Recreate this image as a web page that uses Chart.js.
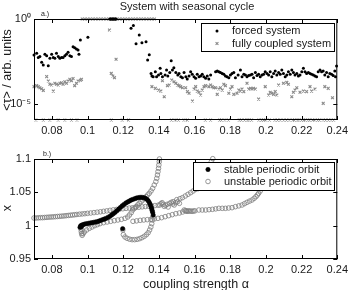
<!DOCTYPE html>
<html>
<head>
<meta charset="utf-8">
<script src="https://cdn.jsdelivr.net/npm/chart.js@4.4.1/dist/chart.umd.min.js"></script>
<style>
  html, body { margin: 0; padding: 0; background: #fff; }
  #wrap { position: relative; width: 352px; height: 290px; }
  canvas { position: absolute; left: 0; }
</style>
</head>
<body>
<div id="wrap">
  <canvas id="panelA" width="352" height="145" style="top:0"></canvas>
  <canvas id="panelB" width="352" height="145" style="top:145px"></canvas>
</div>
<script>
// ---- axis ticks ----
const xTickValues = [0.08, 0.1, 0.12, 0.14, 0.16, 0.18, 0.2, 0.22, 0.24];
const xTickLabels = ["0.08", "0.1", "0.12", "0.14", "0.16", "0.18", "0.2", "0.22", "0.24"];
const yTickValuesA = [1, 1e-5];
const yTickLabelsA = ["10\u2070", "10\u207b\u2075"];
const yTickValuesB = [0.95, 1, 1.05, 1.1];
const yTickLabelsB = ["0.95", "1", "1.05", "1.1"];

// ---- panel a: [alpha, log10 <tau>] ----
const forced = [
  [0.0700,-2.12],[0.0715,-2.02],[0.0724,-2.27],[0.0733,-2.21],[0.0743,-2.55],[0.0752,-2.70],
  [0.0761,-2.08],[0.0771,-2.16],[0.0780,-2.75],[0.0789,-2.31],[0.0799,-2.08],[0.0808,-2.27],
  [0.0817,-2.31],[0.0826,-2.02],[0.0836,-2.21],[0.0845,-2.31],[0.0854,-2.27],[0.0863,-2.27],
  [0.0873,-2.16],[0.0882,-2.08],[0.0891,-1.96],[0.0901,-2.16],[0.0910,-2.21],[0.0919,-1.63],
  [0.0928,-1.69],[0.0938,-1.76],[0.0947,-1.82],[0.0952,-2.08],[0.0960,-1.24],[0.1002,-1.08],
  [0.1125,0],[0.1130,0],[0.1135,0],[0.1140,0],[0.1145,0],[0.1150,0],[0.1155,0],[0.1160,0],
  [0.1244,-0.55],[0.1257,-0.38],[0.1272,-1.45],[0.1290,-0.94],[0.1305,-1.40],[0.1328,-1.34],
  [0.1337,-2.41],[0.1346,-2.10],
  [0.1356,-3.20],[0.1361,-3.35],[0.1368,-3.39],[0.1380,-3.10],[0.1387,-3.39],[0.1398,-3.29],
  [0.1407,-2.90],[0.1411,-3.20],[0.1420,-3.39],[0.1435,-3.29],[0.1443,-3.00],[0.1450,-3.35],
  [0.1461,-3.14],[0.1469,-2.45],[0.1476,-3.00],[0.1484,-2.86],[0.1495,-3.14],[0.1506,-3.29],
  [0.1513,-3.20],[0.1523,-3.39],[0.1532,-3.45],[0.1541,-3.14],[0.1551,-3.39],[0.1559,-3.53],
  [0.1569,-3.35],[0.1578,-3.10],[0.1587,-3.25],[0.1597,-3.39],[0.1606,-3.49],[0.1615,-3.25],
  [0.1625,-3.39],[0.1634,-3.35],[0.1643,-3.25],[0.1652,-3.39],[0.1662,-3.49],[0.1671,-3.35],
  [0.1680,-3.53],[0.1690,-3.29],[0.1718,-3.10],[0.1727,-3.06],[0.1736,-3.10],[0.1745,-3.14],
  [0.1755,-3.20],[0.1764,-3.25],[0.1773,-3.35],[0.1782,-3.39],[0.1792,-3.45],[0.1801,-3.29],
  [0.1810,-3.20],[0.1820,-3.14],[0.1829,-3.45],[0.1844,-3.29],[0.1857,-3.00],[0.1866,-3.39],
  [0.1876,-3.25],[0.1885,-3.29],[0.1894,-3.39],[0.1903,-3.33],[0.1913,-3.29],[0.1922,-3.25],
  [0.1931,-3.45],[0.1941,-3.14],[0.1950,-3.33],[0.1959,-3.25],[0.1968,-3.39],[0.1978,-3.29],
  [0.1987,-3.25],[0.1996,-3.10],[0.2006,-3.20],[0.2015,-3.29],[0.2024,-3.10],[0.2033,-3.39],
  [0.2043,-3.20],[0.2052,-3.06],[0.2061,-3.29],[0.2071,-3.14],[0.2080,-3.25],[0.2089,-3.00],
  [0.2098,-3.20],[0.2108,-3.39],[0.2117,-3.29],[0.2126,-3.10],[0.2136,-3.25],[0.2145,-3.00],
  [0.2154,-3.14],[0.2163,-3.29],[0.2173,-3.20],[0.2182,-3.35],[0.2191,-3.29],[0.2201,-3.10],
  [0.2210,-2.90],[0.2219,-3.10],[0.2228,-3.20],[0.2238,-3.14],[0.2247,-3.20],[0.2256,-3.25],
  [0.2266,-3.29],[0.2275,-3.35],[0.2284,-3.39],[0.2293,-3.10],[0.2303,-3.00],[0.2312,-3.10],
  [0.2321,-3.06],[0.2330,-3.29],[0.2340,-3.14],[0.2349,-3.39],[0.2358,-3.20],[0.2368,-3.25],
  [0.2377,-3.33],[0.2386,-3.06],[0.2390,-3.39],[0.2396,-2.76]
];

const coupled = [
  [0.0700,-3.98],[0.0715,-3.92],[0.0724,-3.98],[0.0733,-4.04],[0.0743,-4.10],[0.0752,-4.20],
  [0.0771,-3.39],[0.0780,-3.65],[0.0789,-3.84],[0.0799,-3.88],[0.0808,-4.24],[0.0817,-3.78],
  [0.0826,-3.84],[0.0836,-3.88],[0.0845,-3.78],[0.0854,-3.75],[0.0863,-3.84],[0.0873,-3.69],
  [0.0882,-3.78],[0.0891,-3.65],[0.0901,-3.55],[0.0910,-3.63],[0.0919,-3.50],[0.0928,-3.92],
  [0.0938,-3.78],[0.0947,-3.65],[0.0960,-3.60],[0.0966,-3.55],
  [0.0970,0],[0.0985,0],[0.1000,0],[0.1015,0],[0.1030,0],[0.1045,0],[0.1060,0],[0.1075,0],
  [0.1090,0],[0.1105,0],[0.1120,0],[0.1135,0],[0.1150,0],[0.1165,0],[0.1180,0],[0.1195,0],
  [0.1210,0],[0.1225,0],[0.1240,0],[0.1255,0],[0.1270,0],[0.1285,0],[0.1300,0],[0.1315,0],
  [0.1330,0],[0.1345,0],[0.1360,0],[0.1375,0],
  [0.1123,-0.65],[0.1160,-2.37],[0.1133,-3.20],[0.1142,-3.35],[0.1151,-3.45],
  [0.1361,-3.98],[0.1380,-4.08],[0.1398,-4.18],[0.1411,-4.24],[0.1420,-3.63],[0.1430,-4.57],
  [0.1448,-3.92],[0.1458,-3.88],[0.1472,-3.59],[0.1485,-3.69],[0.1495,-3.78],[0.1504,-3.88],
  [0.1513,-3.92],[0.1522,-3.98],[0.1532,-4.04],[0.1550,-4.04],[0.1560,-4.27],[0.1569,-4.37],
  [0.1588,-4.82],[0.1597,-4.12],[0.1606,-3.98],[0.1615,-4.24],[0.1625,-4.31],[0.1634,-4.47],
  [0.1643,-4.18],[0.1653,-3.98],[0.1662,-3.92],[0.1680,-3.98],[0.1690,-3.88],[0.1699,-3.98],
  [0.1708,-4.04],[0.1718,-4.04],[0.1727,-4.43],[0.1736,-4.12],[0.1745,-4.04],[0.1755,-4.18],
  [0.1764,-3.84],[0.1773,-3.92],[0.1792,-4.37],[0.1801,-4.12],[0.1810,-3.98],
  [0.1820,-4.43],[0.1838,-4.37],[0.1848,-4.18],[0.1857,-4.24],[0.1866,-4.12],[0.1876,-4.27],
  [0.1894,-3.78],[0.1903,-4.12],[0.1913,-4.08],[0.1922,-4.12],[0.1931,-4.08],[0.1941,-4.12],
  [0.1959,-4.71],[0.1996,-3.98],[0.2015,-4.47],[0.2024,-4.31],[0.2033,-4.37],[0.2043,-4.43],
  [0.2052,-4.27],[0.2061,-4.47],[0.2071,-3.88],[0.2098,-3.78],[0.2117,-3.73],[0.2126,-3.84],
  [0.2145,-4.57],[0.2154,-4.31],[0.2163,-4.18],[0.2173,-4.04],[0.2191,-4.31],[0.2210,-4.24],
  [0.2228,-4.27],[0.2247,-3.98],[0.2256,-4.24],[0.2275,-4.12],[0.2321,-4.96],[0.2330,-3.98],
  [0.2349,-4.08],[0.2373,-4.63],
  [0.0711,-5.94],[0.0752,-5.94],[0.0789,-5.94],[0.0835,-5.94],[0.0873,-5.94],[0.0910,-5.94],
  [0.0941,-5.94],[0.1133,-5.94],[0.1194,-5.94],[0.1230,-5.94],[0.1470,-5.94],[0.1490,-5.94],
  [0.1510,-5.94],[0.1540,-5.94],[0.1560,-5.94],[0.1660,-5.94],[0.1690,-5.94],[0.1740,-5.94],
  [0.1750,-5.94],[0.1770,-5.94],[0.1790,-5.94],[0.1850,-5.94],[0.1862,-5.94],[0.1880,-5.94],
  [0.1895,-5.94],[0.1905,-5.94],[0.1920,-5.94],[0.1960,-5.94],[0.1975,-5.94],[0.1985,-5.94],
  [0.2000,-5.94],[0.2020,-5.94],[0.2050,-5.94],[0.2065,-5.94],[0.2080,-5.94],[0.2100,-5.94],
  [0.2115,-5.94],[0.2130,-5.94],[0.2150,-5.94],[0.2160,-5.94],[0.2175,-5.94],[0.2185,-5.94],
  [0.2200,-5.94],[0.2210,-5.94],[0.2220,-5.94],[0.2235,-5.94],[0.2245,-5.94],[0.2260,-5.94],
  [0.2275,-5.94],[0.2290,-5.94],[0.2300,-5.94],[0.2320,-5.94],[0.2335,-5.94],[0.2350,-5.94],
  [0.2365,-5.94],[0.2380,-5.94]
];

// ---- panel b: [alpha, x] ----
const stable = [
  [0.0958,0.9975],[0.0962,1.0000],[0.0966,0.9985],[0.0970,1.0010],[0.0975,1.0015],[0.0985,1.0025],
  [0.0995,1.0030],[0.1005,1.0035],[0.1015,1.0040],[0.1025,1.0045],[0.1035,1.0050],[0.1045,1.0055],
  [0.1055,1.0060],[0.1065,1.0070],[0.1075,1.0080],[0.1085,1.0090],[0.1095,1.0100],[0.1105,1.0110],
  [0.1115,1.0125],[0.1125,1.0140],[0.1135,1.0160],[0.1145,1.0180],[0.1155,1.0200],[0.1165,1.0225],
  [0.1175,1.0250],[0.1185,1.0275],[0.1195,1.0300],[0.1205,1.0320],[0.1215,1.0340],[0.1225,1.0355],
  [0.1235,1.0370],[0.1245,1.0385],[0.1255,1.0395],[0.1265,1.0405],[0.1275,1.0415],[0.1285,1.0420],
  [0.1295,1.0425],[0.1305,1.0425],[0.1315,1.0420],[0.1325,1.0410],[0.1333,1.0395],[0.1340,1.0375],
  [0.1346,1.0350],[0.1351,1.0320],[0.1355,1.0290],[0.1359,1.0260],[0.1362,1.0230],[0.1365,1.0200],
  [0.1368,1.0160],[0.1197,0.9955]
];

const unstable = [
  [0.0700,1.0115],[0.0712,1.0115],[0.0724,1.0118],[0.0736,1.0120],[0.0748,1.0120],[0.0760,1.0123],
  [0.0772,1.0125],[0.0784,1.0128],[0.0796,1.0130],[0.0808,1.0132],[0.0820,1.0135],[0.0832,1.0138],
  [0.0844,1.0140],[0.0856,1.0143],[0.0868,1.0146],[0.0880,1.0150],[0.0892,1.0153],[0.0904,1.0157],
  [0.0916,1.0160],[0.0928,1.0164],[0.0940,1.0168],[0.0955,1.0172],[0.0970,1.0176],[0.0985,1.0180],
  [0.1000,1.0185],[0.1018,1.0190],[0.1036,1.0196],[0.1054,1.0202],[0.1072,1.0208],[0.1090,1.0215],
  [0.1108,1.0222],[0.1126,1.0230],[0.1144,1.0237],[0.1162,1.0243],[0.1180,1.0249],[0.1198,1.0254],
  [0.1216,1.0259],[0.1234,1.0264],[0.1252,1.0268],[0.1270,1.0272],[0.1288,1.0277],[0.1306,1.0282],
  [0.1324,1.0287],[0.1342,1.0292],[0.1360,1.0297],[0.1378,1.0302],[0.1396,1.0307],
  [0.1405,1.0310],[0.1412,1.0330],[0.1418,1.0345],[0.1424,1.0320],[0.1430,1.0290],[0.1438,1.0305],
  [0.1446,1.0320],[0.1452,1.0280],[0.1460,1.0335],[0.1470,1.0350],[0.1478,1.0325],[0.1486,1.0310],
  [0.1495,1.0345],[0.1505,1.0360],[0.1515,1.0335],
  [0.1480,1.0360],[0.1500,1.0390],[0.1518,1.0405],[0.1532,1.0420],[0.1548,1.0445],[0.1563,1.0470],
  [0.1578,1.0495],[0.1592,1.0520],[0.1606,1.0545],[0.1620,1.0555],[0.1624,1.0585],[0.1643,1.0660],
  [0.1658,1.0730],[0.1672,1.0810],[0.1684,1.0890],[0.1694,1.0960],[0.1702,1.1005],
  [0.0962,0.9985],[0.0963,0.9950],[0.0965,0.9910],[0.0967,0.9880],[0.0970,0.9855],[0.0975,0.9880],
  [0.0982,0.9905],[0.0995,0.9935],[0.1010,0.9960],[0.1025,0.9980],[0.1040,1.0000],[0.1055,1.0015],
  [0.1070,1.0030],[0.1090,1.0045],[0.1110,1.0055],[0.1130,1.0065],[0.1150,1.0075],[0.1170,1.0085],
  [0.1190,1.0095],[0.1210,1.0110],[0.1225,1.0130],[0.1235,1.0160],[0.1245,1.0195],[0.1253,1.0235],
  [0.1262,1.0260],[0.1272,1.0285],[0.1281,1.0310],[0.1290,1.0335],[0.1300,1.0360],[0.1310,1.0385],
  [0.1320,1.0410],[0.1328,1.0435],[0.1337,1.0460],[0.1346,1.0485],[0.1356,1.0520],[0.1365,1.0560],
  [0.1374,1.0610],[0.1383,1.0660],[0.1388,1.0710],[0.1392,1.0760],[0.1395,1.0810],[0.1398,1.0860],
  [0.1400,1.0910],[0.1402,1.0960],[0.1403,1.1000],
  [0.1198,0.9935],[0.1201,0.9865],[0.1210,0.9830],[0.1222,0.9810],[0.1236,0.9797],[0.1250,0.9790],
  [0.1264,0.9790],[0.1278,0.9795],[0.1292,0.9805],[0.1305,0.9820],[0.1318,0.9840],[0.1330,0.9865],
  [0.1340,0.9895],[0.1348,0.9935],[0.1355,0.9980],[0.1360,1.0030],[0.1363,1.0085],[0.1366,1.0130],
  [0.1255,1.0065],[0.1275,1.0072],[0.1295,1.0080],[0.1315,1.0085],[0.1335,1.0090],[0.1355,1.0095],
  [0.1375,1.0102],[0.1395,1.0110],[0.1415,1.0120],[0.1435,1.0135],[0.1455,1.0150],[0.1475,1.0165],
  [0.1495,1.0180],[0.1515,1.0190],[0.1533,1.0205],
  [0.1542,1.0235],[0.1548,1.0225],[0.1553,1.0220],[0.1558,1.0215],[0.1564,1.0222],[0.1570,1.0218],
  [0.1578,1.0220],[0.1586,1.0215],[0.1594,1.0220],[0.1602,1.0222],
  [0.1624,1.0235],[0.1643,1.0235],[0.1662,1.0235],[0.1681,1.0240],[0.1700,1.0245],[0.1718,1.0252],
  [0.1736,1.0260],[0.1755,1.0260],[0.1773,1.0260],[0.1791,1.0265],[0.1810,1.0270],[0.1829,1.0285],
  [0.1848,1.0297],[0.1866,1.0310],[0.1880,1.0330],[0.1894,1.0350],[0.1908,1.0368],[0.1922,1.0385],
  [0.1934,1.0410],[0.1944,1.0435],[0.1952,1.0460],[0.1959,1.0485],[0.1968,1.0520],[0.1977,1.0560],
  [0.1985,1.0620]
];

const FONT = '"Liberation Sans", Arial, Helvetica, sans-serif';
const INK = "#1a1a1a";
const GREY_X = "#8a8a8a";
const GREY_O = "#7d7d7d";

function toLogPoints(rows) {
  return rows.map(([a, e]) => ({ x: a, y: Math.pow(10, e) }));
}
function toPoints(rows) {
  return rows.map(([a, v]) => ({ x: a, y: v }));
}

function xScale(height) {
  return {
    type: "linear",
    min: 0.07,
    max: 0.24,
    afterBuildTicks: (s) => { s.ticks = xTickValues.map((v) => ({ value: v })); },
    afterFit: (s) => { s.height = height; },
    grid: { display: false, drawTicks: false },
    border: { display: false },
    ticks: {
      padding: 4,
      color: INK,
      font: { family: FONT, size: 11 },
      maxRotation: 0,
      autoSkip: false,
      callback: (v, i) => xTickLabels[i],
    },
  };
}

function yScale(extra, values, labels) {
  return Object.assign({
    afterBuildTicks: (s) => { s.ticks = values.map((v) => ({ value: v })); },
    afterFit: (s) => { s.width = 34; },
    grid: { display: false, drawTicks: false },
    border: { display: false },
    ticks: {
      padding: 3,
      color: INK,
      font: { family: FONT, size: 11 },
      callback: (v, i) => labels[i],
    },
  }, extra);
}

// frame with inward ticks, hand-placed texts and a boxed legend
function decorations(cfg) {
  return {
    id: "decorations",
    afterDraw(chart) {
      const ctx = chart.ctx;
      const a = chart.chartArea;
      const xs = chart.scales.x;
      const ys = chart.scales.y;
      ctx.save();
      ctx.strokeStyle = "#000";
      ctx.lineWidth = 1;
      ctx.strokeRect(a.left + 0.5, a.top + 0.5, a.right - a.left - 1, a.bottom - a.top - 1);
      ctx.beginPath();
      xTickValues.forEach((v) => {
        const px = Math.round(xs.getPixelForValue(v)) + 0.5;
        ctx.moveTo(px, a.bottom); ctx.lineTo(px, a.bottom - 4);
        ctx.moveTo(px, a.top); ctx.lineTo(px, a.top + 4);
      });
      cfg.yTicks.forEach((v) => {
        const py = Math.round(ys.getPixelForValue(v)) + 0.5;
        ctx.moveTo(a.left, py); ctx.lineTo(a.left + 4, py);
        ctx.moveTo(a.right, py); ctx.lineTo(a.right - 4, py);
      });
      ctx.stroke();

      ctx.fillStyle = INK;
      cfg.texts.forEach((t) => {
        ctx.save();
        ctx.font = t.size + "px " + FONT;
        ctx.textAlign = t.align || "center";
        ctx.textBaseline = "middle";
        ctx.translate(t.x, t.y);
        if (t.rotate) ctx.rotate(-Math.PI / 2);
        ctx.fillText(t.text, 0, 0);
        ctx.restore();
      });

      const L = cfg.legend;
      ctx.fillStyle = "#fff";
      ctx.fillRect(L.x, L.y, L.w, L.h);
      ctx.strokeStyle = "#000";
      ctx.lineWidth = 1;
      ctx.strokeRect(L.x + 0.5, L.y + 0.5, L.w, L.h);
      L.rows.forEach((r) => {
        ctx.fillStyle = r.fill;
        ctx.strokeStyle = r.stroke;
        ctx.lineWidth = r.borderWidth;
        Chart.helpers.drawPoint(ctx, { pointStyle: r.style, radius: r.radius, rotation: 0, borderWidth: r.borderWidth }, L.markerX, r.y);
        ctx.fillStyle = INK;
        ctx.font = "11px " + FONT;
        ctx.textAlign = "left";
        ctx.textBaseline = "middle";
        ctx.fillText(r.label, L.textX, r.y);
      });
      ctx.restore();
    },
  };
}

new Chart(document.getElementById("panelA"), {
  type: "scatter",
  data: {
    datasets: [
      {
        label: "forced system",
        data: toLogPoints(forced),
        pointStyle: "circle",
        pointRadius: 1.5,
        backgroundColor: "#000",
        borderWidth: 0,
        clip: false,
      },
      {
        label: "fully coupled system",
        data: toLogPoints(coupled),
        pointStyle: "crossRot",
        pointRadius: 2,
        borderColor: GREY_X,
        borderWidth: 1.1,
        clip: false,
      },
    ],
  },
  options: {
    responsive: false,
    animation: false,
    events: [],
    layout: { padding: { top: 19, right: 13, left: 0, bottom: 0 } },
    scales: {
      x: xScale(25),
      y: yScale({ type: "logarithmic", min: Math.pow(10, -5.94), max: 1 }, yTickValuesA, yTickLabelsA),
    },
    plugins: { legend: { display: false }, tooltip: { enabled: false } },
  },
  plugins: [decorations({
    yTicks: yTickValuesA,
    texts: [
      { text: "System with seasonal cycle", x: 187, y: 7, size: 11 },
      { text: "a.)", x: 41, y: 14.5, size: 7, align: "left" },
      { text: "<\u03c4> / arb. units", x: 7.5, y: 70, size: 12.5, rotate: true },
    ],
    legend: {
      x: 201, y: 23, w: 133, h: 28, markerX: 217, textX: 232,
      rows: [
        { label: "forced system", y: 31, style: "circle", radius: 1.5, fill: "#000", stroke: "#000", borderWidth: 0 },
        { label: "fully coupled system", y: 43.5, style: "crossRot", radius: 2, fill: "rgba(0,0,0,0)", stroke: GREY_X, borderWidth: 1.1 },
      ],
    },
  })],
});

new Chart(document.getElementById("panelB"), {
  type: "scatter",
  data: {
    datasets: [
      {
        label: "stable periodic orbit",
        data: toPoints(stable),
        pointStyle: "circle",
        pointRadius: 2.2,
        backgroundColor: "#000",
        borderColor: "#000",
        borderWidth: 0.5,
        clip: false,
      },
      {
        label: "unstable periodic orbit",
        data: toPoints(unstable),
        pointStyle: "circle",
        pointRadius: 2.3,
        backgroundColor: "rgba(0,0,0,0)",
        borderColor: GREY_O,
        borderWidth: 0.8,
        clip: false,
      },
    ],
  },
  options: {
    responsive: false,
    animation: false,
    events: [],
    layout: { padding: { top: 14, right: 13, left: 0, bottom: 0 } },
    scales: {
      x: xScale(31),
      y: yScale({ type: "linear", min: 0.95, max: 1.1 }, yTickValuesB, yTickLabelsB),
    },
    plugins: { legend: { display: false }, tooltip: { enabled: false } },
  },
  plugins: [decorations({
    yTicks: yTickValuesB,
    texts: [
      { text: "b.)", x: 43, y: 9.5, size: 7, align: "left" },
      { text: "x", x: 7.5, y: 63, size: 12.5, rotate: true },
      { text: "coupling strength \u03b1", x: 196, y: 139.5, size: 12.5 },
    ],
    legend: {
      x: 193, y: 17, w: 141, h: 28, markerX: 208, textX: 224,
      rows: [
        { label: "stable periodic orbit", y: 24.5, style: "circle", radius: 2.2, fill: "#000", stroke: "#000", borderWidth: 0.5 },
        { label: "unstable periodic orbit", y: 36.5, style: "circle", radius: 2.3, fill: "rgba(0,0,0,0)", stroke: GREY_O, borderWidth: 0.8 },
      ],
    },
  })],
});
</script>
</body>
</html>
